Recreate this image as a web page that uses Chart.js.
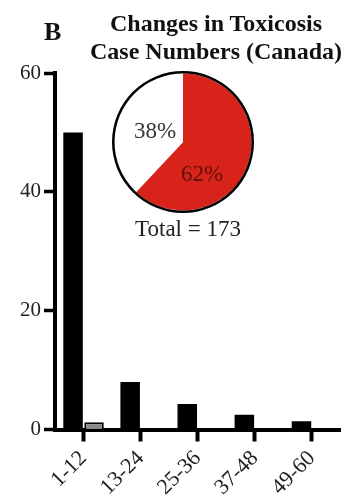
<!DOCTYPE html>
<html>
<head>
<meta charset="utf-8">
<script src="https://cdn.jsdelivr.net/npm/chart.js@4"></script>
<style>
  html, body { margin: 0; padding: 0; background: #fff; }
  #wrap { position: relative; width: 350px; height: 502px; overflow: hidden; }
  #barChart { position: absolute; left: 0; top: 0; }
  #pieBox { position: absolute; left: 112px; top: 71px; width: 142px; height: 142px; }
  .txt { position: absolute; font-family: "Liberation Serif", "Times New Roman", serif; color: #111; white-space: nowrap; }
  #panel { left: 44px; top: 17px; font-size: 26px; font-weight: bold; line-height: 30px; }
  #title { left: 78px; width: 276px; top: 9px; text-align: center; font-size: 24px; font-weight: bold; line-height: 28px; }
  #total { left: 118px; width: 140px; top: 216px; text-align: center; font-size: 23px; line-height: 26px; color: #222; }
</style>
</head>
<body>
<div id="wrap">
  <canvas id="barChart" width="350" height="502"></canvas>
  <div id="pieBox"><canvas id="pieChart"></canvas></div>
  <div class="txt" id="panel">B</div>
  <div class="txt" id="title">Changes in Toxicosis<br>Case Numbers (Canada)</div>
  <div class="txt" id="total"></div>
</div>
<script>
// month ranges on the x axis
const months = ['1-12', '13-24', '25-36', '37-48', '49-60'];
// black bars and the small outlined bar next to the first one
const casesMain = [50, 8, 4.3, 2.5, 1.4];
const casesSecond = [1.2, null, null, null, null];
const yTicks = [0, 20, 40, 60];

// pie: share of cases, starting at 12 o'clock and going clockwise
const pieLabels = ['increase', 'decrease'];
const pieShares = [62, 38];
const pieColors = ['#d8231a', '#ffffff'];
const totalCases = 173;

const serif = '"Liberation Serif", "Times New Roman", serif';

document.getElementById('total').textContent = 'Total = ' + totalCases;

new Chart(document.getElementById('barChart'), {
    type: 'bar',
    data: {
        labels: months,
        datasets: [
            {
                data: casesMain,
                backgroundColor: '#000',
                borderWidth: 0
            },
            {
                data: casesSecond,
                backgroundColor: '#8a8a8a',
                borderColor: '#000',
                borderWidth: 2
            }
        ]
    },
    options: {
        responsive: false,
        animation: false,
        categoryPercentage: 0.735,
        barPercentage: 0.93,
        layout: { padding: { top: 73, right: 9.5, left: 0, bottom: 0 } },
        plugins: { legend: { display: false }, tooltip: { enabled: false } },
        scales: {
            x: {
                offset: true,
                grid: { offset: false, drawOnChartArea: false, tickLength: 12, tickWidth: 4, tickColor: '#000' },
                border: { color: '#000', width: 4 },
                ticks: {
                    color: '#222', font: { family: serif, size: 22 },
                    maxRotation: 45, minRotation: 45, padding: 4
                },
                afterFit: (scale) => { scale.height = 72.5; }
            },
            y: {
                min: 0, max: 60,
                afterBuildTicks: (scale) => { scale.ticks = yTicks.map(v => ({ value: v })); },
                grid: { drawOnChartArea: false, tickLength: 11, tickWidth: 3.5, tickColor: '#000' },
                border: { color: '#000', width: 4 },
                ticks: { color: '#222', font: { family: serif, size: 21 }, padding: 3 },
                afterFit: (scale) => { scale.width = 55; }
            }
        }
    }
});

// writes each slice's percentage at an angle (deg clockwise from top) and radius fraction
const sliceText = {
    id: 'sliceText',
    afterDatasetsDraw(chart, args, opts) {
        const meta = chart.getDatasetMeta(1);
        const ctx = chart.ctx;
        const data = chart.data.datasets[1].data;
        const sum = data.reduce((a, b) => a + b, 0);
        ctx.save();
        ctx.font = '23px ' + serif;
        ctx.textAlign = 'center';
        ctx.textBaseline = 'middle';
        meta.data.forEach((arc, i) => {
            const a = opts.anchors[i];
            const rad = a.angle * Math.PI / 180;
            const r = arc.outerRadius * a.r;
            ctx.fillStyle = opts.colors[i];
            ctx.fillText(Math.round(data[i] / sum * 100) + '%', arc.x + Math.sin(rad) * r, arc.y - Math.cos(rad) * r);
        });
        ctx.restore();
    }
};

new Chart(document.getElementById('pieChart'), {
    type: 'pie',
    data: {
        labels: pieLabels,
        datasets: [
            // thin black rim around the pie
            { data: [1], backgroundColor: ['#000'], borderWidth: 0, weight: 1 },
            { data: pieShares, backgroundColor: pieColors, borderWidth: 0, weight: 27 }
        ]
    },
    options: {
        responsive: true,
        maintainAspectRatio: false,
        animation: false,
        plugins: {
            legend: { display: false },
            tooltip: { enabled: false },
            sliceText: {
                anchors: [{ angle: 150, r: 0.56 }, { angle: 289, r: 0.43 }],
                colors: ['#5e1209', '#333']
            }
        }
    },
    plugins: [sliceText]
});
</script>
</body>
</html>
